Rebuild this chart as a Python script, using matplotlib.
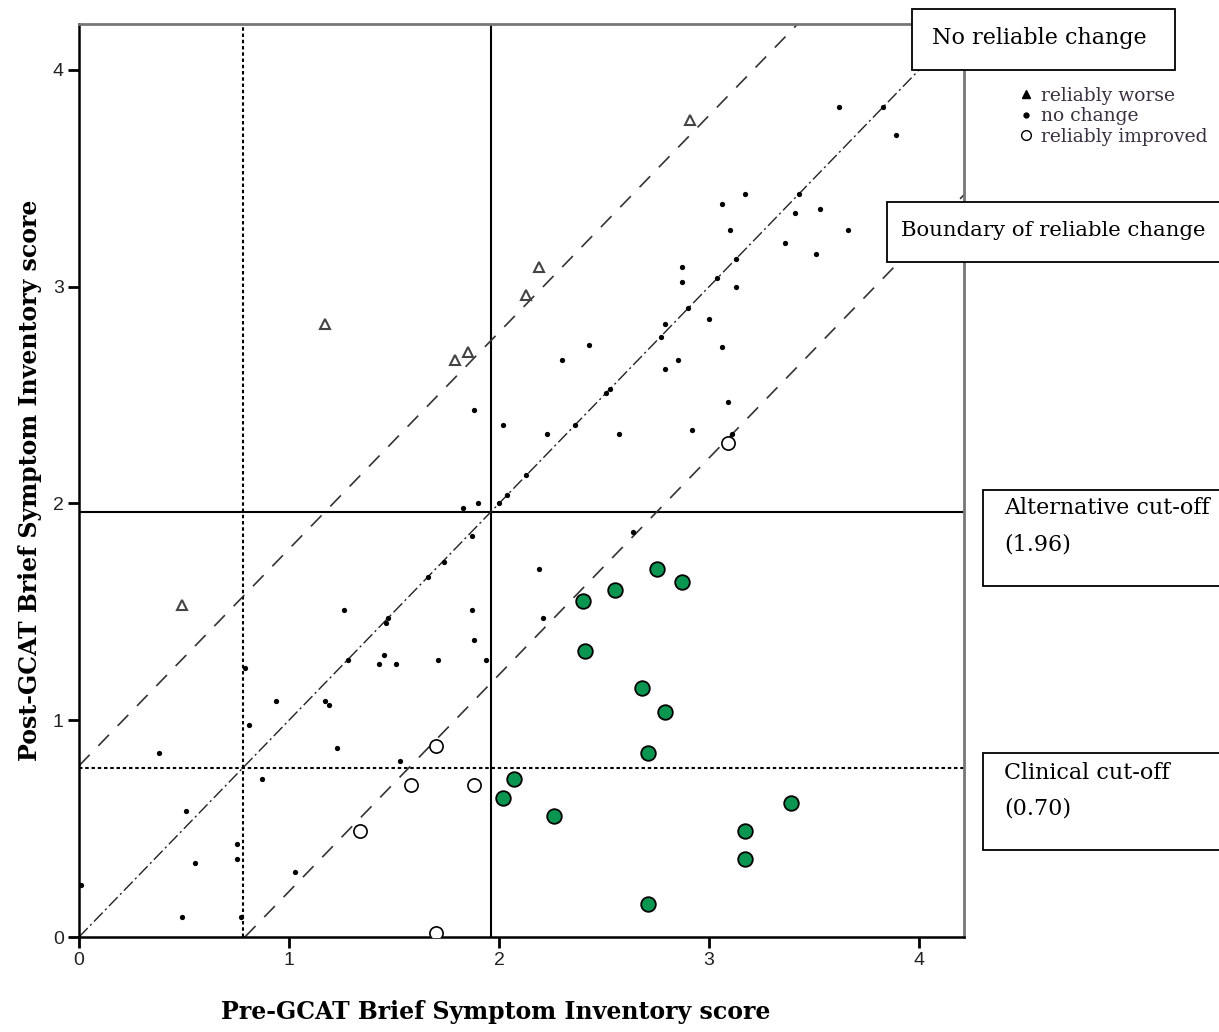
import numpy as np
import matplotlib.pyplot as plt
from matplotlib.lines import Line2D
from matplotlib.patches import Rectangle

plt.rcParams['lines.scale_dashes'] = False

# reliably worse (open triangles)
worse_pre = [1.17, 1.79, 1.85, 0.49, 2.91, 2.19, 2.13]
worse_post = [2.83, 2.66, 2.70, 1.53, 3.77, 3.09, 2.96]

# no change (small dots)
nochange_pre = [1.88, 2.02, 1.83, 1.90, 2.00, 2.04, 2.13, 1.87, 1.74, 1.66, 1.26, 1.87,
                1.46, 1.47, 1.88, 1.28, 1.45, 1.43, 1.51, 1.71, 1.94, 0.79, 0.94, 1.17,
                1.19, 0.81, 0.38, 1.23, 1.53, 0.87, 0.51, 0.75, 0.75, 0.55, 0.01, 1.03,
                0.49, 0.77,
                3.62, 3.83, 3.89, 3.17, 3.43, 3.06, 3.53, 3.41, 3.10, 3.66, 3.36, 3.51,
                3.13, 2.87, 2.87, 3.04, 3.13, 2.90, 3.00, 2.79, 2.77, 2.43, 2.30, 3.06,
                2.85, 2.79, 2.51, 2.53, 3.09, 2.23, 2.36, 2.57, 2.92, 3.11, 2.64, 2.19,
                2.21]
nochange_post = [2.43, 2.36, 1.98, 2.00, 2.00, 2.04, 2.13, 1.85, 1.73, 1.66, 1.51, 1.51,
                 1.45, 1.47, 1.37, 1.28, 1.30, 1.26, 1.26, 1.28, 1.28, 1.24, 1.09, 1.09,
                 1.07, 0.98, 0.85, 0.87, 0.81, 0.73, 0.58, 0.43, 0.36, 0.34, 0.24, 0.30,
                 0.09, 0.09,
                 3.83, 3.83, 3.70, 3.43, 3.43, 3.38, 3.36, 3.34, 3.26, 3.26, 3.20, 3.15,
                 3.13, 3.09, 3.02, 3.04, 3.00, 2.90, 2.85, 2.83, 2.77, 2.73, 2.66, 2.72,
                 2.66, 2.62, 2.51, 2.53, 2.47, 2.32, 2.36, 2.32, 2.34, 2.32, 1.87, 1.70,
                 1.47]

# reliably improved, still above clinical cut-off (open circles)
improved_pre = [1.70, 1.58, 1.88, 1.34, 1.70, 3.09]
improved_post = [0.88, 0.70, 0.70, 0.49, 0.02, 2.28]

# reliably improved and crossed cut-off (green)
recovered_pre = [2.75, 2.87, 2.55, 2.40, 2.41, 2.68, 2.79, 2.71, 2.07, 2.02, 2.26,
                 3.39, 3.17, 3.17, 2.71]
recovered_post = [1.70, 1.64, 1.60, 1.55, 1.32, 1.15, 1.04, 0.85, 0.73, 0.64, 0.56,
                  0.62, 0.49, 0.36, 0.15]

clinical_cut = 0.78
alt_cut = 1.96
rci = 0.79

W, H = 1219, 1032
fig = plt.figure(figsize=(W / 100, H / 100), dpi=100)
ax = fig.add_axes([79 / W, 1 - 937 / H, 885 / W, 913 / H])
ax.set_xlim(0, 4.214)
ax.set_ylim(0, 4.212)

# cut-off lines
dotted = (0, (2.5, 2))
ax.axvline(clinical_cut, color='k', lw=1.5, ls=dotted)
ax.axhline(clinical_cut, color='k', lw=1.5, ls=dotted)
ax.axvline(alt_cut, color='k', lw=1.5)
ax.axhline(alt_cut, color='k', lw=1.5)

# no-change diagonal and reliable change boundaries
xx = np.array([0, 4.5])
ax.plot(xx, xx, color='#222222', lw=1.0, ls=(0, (9, 2.5, 1.5, 2.5)))
ax.plot(xx, xx + rci, color='#333333', lw=1.2, ls=(0, (11, 9)))
ax.plot(xx + rci, xx, color='#333333', lw=1.2, ls=(0, (11, 9)))

ax.plot(nochange_pre, nochange_post, 'o', color='k', ms=3.8, mew=0, zorder=4)
ax.plot(worse_pre, worse_post, '^', mfc='none', mec='#444444', ms=7.5, mew=1.5, zorder=4)
ax.plot(improved_pre, improved_post, 'o', mfc='white', mec='k', ms=9.5, mew=1.2, zorder=4)
ax.plot(recovered_pre, recovered_post, 'o', mfc='#0a9650', mec='k', ms=10.5, mew=1.3, zorder=5)

ax.set_xticks([0, 1, 2, 3, 4])
ax.set_yticks([0, 1, 2, 3, 4])
ax.tick_params(direction='out', length=8, width=2, labelsize=14, pad=3,
               labelcolor='#222222')
for lab in ax.get_xticklabels() + ax.get_yticklabels():
    lab.set_fontfamily('Liberation Sans')
for s in ['left', 'bottom']:
    ax.spines[s].set_linewidth(1.8)
for s in ['top', 'right']:
    ax.spines[s].set_linewidth(2)
    ax.spines[s].set_color('#777777')

fig.text(496 / W, 1 - 1012 / H, 'Pre-GCAT Brief Symptom Inventory score',
         ha='center', va='center', fontsize=17, fontweight='bold', family='DejaVu Serif')
fig.text(30 / W, 1 - 480 / H, 'Post-GCAT Brief Symptom Inventory score', rotation=90,
         ha='center', va='center', fontsize=17, fontweight='bold', family='DejaVu Serif')

# legend outside the plot
handles = [Line2D([], [], marker='^', color='k', ls='none', ms=6),
           Line2D([], [], marker='o', color='k', ls='none', ms=3.5),
           Line2D([], [], marker='o', mfc='white', mec='k', ls='none', ms=7, mew=1)]
fig.legend(handles, ['reliably worse', 'no change', 'reliably improved'],
           loc='upper left', bbox_to_anchor=(1019 / W, 1 - 87 / H), frameon=False,
           prop={'family': 'DejaVu Serif', 'size': 13.5}, labelcolor='#3a2f3f',
           handlelength=0.7, handletextpad=0.45, labelspacing=0.12,
           borderpad=0, borderaxespad=0)

# annotation boxes
boxes = [(912, 9, 263, 61), (887, 202, 360, 60), (983, 490, 260, 96), (983, 753, 260, 97)]
for x0, y0, bw, bh in boxes:
    fig.add_artist(Rectangle((x0 / W, 1 - (y0 + bh) / H), bw / W, bh / H,
                             transform=fig.transFigure, fc='white', ec='black', lw=1.3,
                             zorder=10))

box_font = dict(family='DejaVu Serif', fontsize=16, zorder=11, ha='left', va='center')
fig.text(932 / W, 1 - 38 / H, 'No reliable change', **box_font)
fig.text(901 / W, 1 - 231 / H, 'Boundary of reliable change',
         **{**box_font, 'fontsize': 15.3})
fig.text(1004 / W, 1 - 508 / H, 'Alternative cut-off', **box_font)
fig.text(1004 / W, 1 - 545 / H, '(1.96)', **box_font)
fig.text(1004 / W, 1 - 773 / H, 'Clinical cut-off', **box_font)
fig.text(1004 / W, 1 - 808 / H, '(0.70)', **box_font)

fig.savefig('out.png', dpi=100)
